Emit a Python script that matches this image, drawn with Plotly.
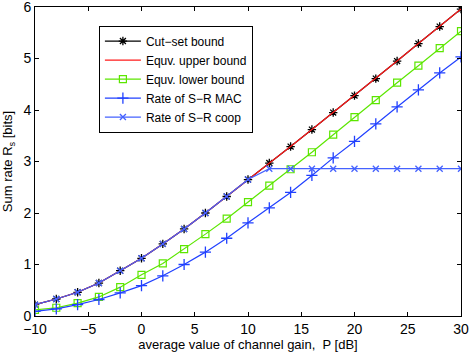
import plotly.graph_objects as go

p_db = [-10, -8, -6, -4, -2, 0, 2, 4, 6, 8, 10, 12, 14, 16, 18, 20, 22, 24, 26, 28, 30]

cut_set = [0.22, 0.33, 0.46, 0.64, 0.88, 1.12, 1.40, 1.69, 2.00, 2.32, 2.65,
           2.97, 3.29, 3.62, 3.95, 4.28, 4.61, 4.95, 5.29, 5.62, 5.96]
upper_bound = cut_set
lower_bound = [0.12, 0.16, 0.25, 0.37, 0.56, 0.80, 1.02, 1.30, 1.59, 1.89, 2.21,
               2.53, 2.85, 3.18, 3.52, 3.86, 4.19, 4.53, 4.86, 5.20, 5.53]
sr_mac = [0.09, 0.14, 0.22, 0.32, 0.45, 0.59, 0.78, 1.00, 1.24, 1.51, 1.81,
          2.10, 2.40, 2.73, 3.07, 3.39, 3.73, 4.06, 4.39, 4.72, 5.03]
sr_coop = [0.22, 0.33, 0.46, 0.64, 0.88, 1.12, 1.40, 1.69, 2.00, 2.32, 2.65,
           2.86, 2.86, 2.86, 2.86, 2.86, 2.86, 2.86, 2.86, 2.86, 2.86]

fig = go.Figure()

fig.add_trace(go.Scatter(
    x=p_db, y=cut_set, mode="lines+markers", name="Cut\u2212set bound",
    line=dict(color="black", width=1.2),
    marker=dict(symbol="asterisk-open", size=7, color="black", line=dict(width=1.3, color="black"))
))
fig.add_trace(go.Scatter(
    x=p_db, y=upper_bound, mode="lines", name="Equv. upper bound",
    line=dict(color="#ff1a1a", width=1.2)
))
fig.add_trace(go.Scatter(
    x=p_db, y=lower_bound, mode="lines+markers", name="Equv. lower bound",
    line=dict(color="#5ce600", width=1.2),
    marker=dict(symbol="square-open", size=7, color="#5ce600", line=dict(width=1.2))
))
fig.add_trace(go.Scatter(
    x=p_db, y=sr_mac, mode="lines+markers", name="Rate of S\u2212R MAC",
    line=dict(color="#2040ff", width=1.2),
    marker=dict(symbol="cross-thin-open", size=8, color="#2040ff", line=dict(width=1.3, color="#2040ff"))
))
fig.add_trace(go.Scatter(
    x=p_db, y=sr_coop, mode="lines+markers", name="Rate of S\u2212R coop",
    line=dict(color="#4562ff", width=1.2),
    marker=dict(symbol="x-thin-open", size=6, color="#4562ff", line=dict(width=1.3, color="#4562ff"))
))

axis_common = dict(
    showline=True, linecolor="black", linewidth=1, mirror="ticks",
    ticks="inside", ticklen=4, tickcolor="black", showgrid=False, zeroline=False,
    tickfont=dict(size=14, color="black"), automargin=False, ticklabeloverflow="allow",
)

fig.update_layout(
    width=469, height=352,
    margin=dict(l=35, r=8, t=7, b=36),
    paper_bgcolor="white", plot_bgcolor="white",
    font=dict(family="Liberation Sans, Arial, sans-serif", color="black", size=13),
    xaxis=dict(range=[-10, 30], tick0=-10, dtick=5,
               title=dict(text="average value of channel gain,  P [dB]", font=dict(size=13), standoff=3),
               **axis_common),
    yaxis=dict(range=[0, 6], dtick=1,
               title=dict(text="Sum rate R<sub>s</sub> [bits]", font=dict(size=13), standoff=8),
               **axis_common),
    legend=dict(x=0.15, y=0.94, xanchor="left", yanchor="top",
                bordercolor="black", borderwidth=1, bgcolor="white",
                font=dict(size=12), tracegroupgap=0, itemwidth=36),
    showlegend=True,
)

fig.write_html("out.html", config={"displayModeBar": False},
               post_script="document.body.style.margin='0';")
